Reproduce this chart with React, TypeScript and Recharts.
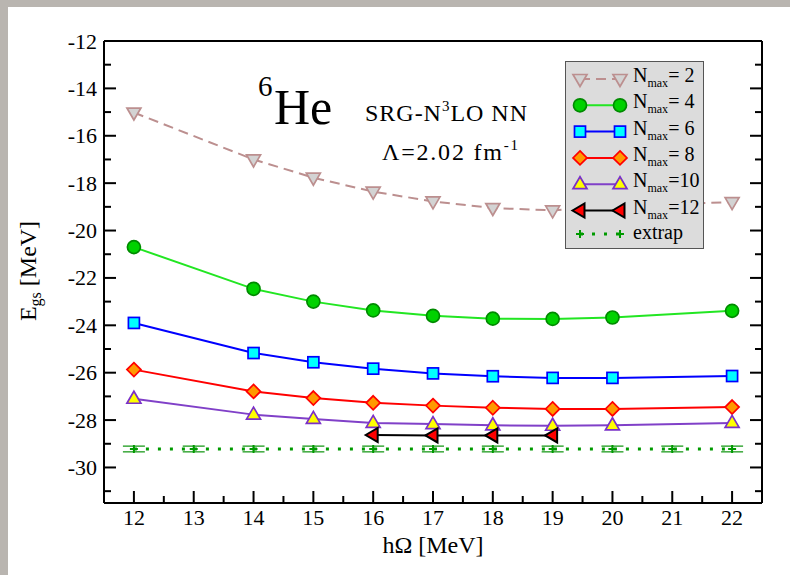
import React from "react";
import { ComposedChart, Line, XAxis, YAxis, ErrorBar, Legend } from "recharts";

const FONT = '"Liberation Serif", "Times New Roman", "Nimbus Roman", serif';

// hbar*Omega grid [MeV]
const hw = [12, 13, 14, 15, 16, 17, 18, 19, 20, 21, 22];

// ground-state energies [MeV] per Nmax
const nmax2 = [-15.02, null, -17.0, -17.77, -18.36, -18.77, -19.05, -19.15, -18.98, null, -18.8];
const nmax4 = [-20.7, null, -22.46, -23.0, -23.37, -23.6, -23.72, -23.73, -23.67, null, -23.39];
const nmax6 = [-23.9, null, -25.17, -25.56, -25.83, -26.03, -26.15, -26.22, -26.22, null, -26.14];
const nmax8 = [-25.87, null, -26.79, -27.07, -27.27, -27.39, -27.48, -27.53, -27.53, null, -27.45];
const nmax10 = [-27.1, null, -27.77, -27.95, -28.12, -28.17, -28.22, -28.24, -28.22, null, -28.12];
const nmax12 = [null, null, null, null, -28.63, -28.65, -28.65, -28.65, null, null, null];
const extrap = [-29.22, -29.22, -29.22, -29.22, -29.22, -29.22, -29.22, -29.22, -29.22, -29.22, -29.22];
const extrapErr = [0.12, 0.12, 0.12, 0.12, 0.12, 0.12, 0.12, 0.12, 0.12, 0.12, 0.12];

const xMajor = [12, 13, 14, 15, 16, 17, 18, 19, 20, 21, 22];
const xMinor = [12.5, 13.5, 14.5, 15.5, 16.5, 17.5, 18.5, 19.5, 20.5, 21.5];
const yMajor = [-30, -28, -26, -24, -22, -20, -18, -16, -14, -12];
const yMinor = [-31, -29, -27, -25, -23, -21, -19, -17, -15, -13];

const X_DOMAIN = [11.5, 22.5];
const Y_DOMAIN = [-31.5, -12];

const SERIES = [
  { key: "n2", values: nmax2, label: "= 2", line: "#bc8f8f", dash: "10 6", marker: "triDown", fill: "#d3d3d3", stroke: "#bc8f8f" },
  { key: "n4", values: nmax4, label: "= 4", line: "#22e622", dash: undefined, marker: "circle", fill: "#00d200", stroke: "#008a00" },
  { key: "n6", values: nmax6, label: "= 6", line: "#0000ff", dash: undefined, marker: "square", fill: "#00ffff", stroke: "#0000ff" },
  { key: "n8", values: nmax8, label: "= 8", line: "#ff0000", dash: undefined, marker: "diamond", fill: "#ff9900", stroke: "#ff0000" },
  { key: "n10", values: nmax10, label: "=10", line: "#8040c8", dash: undefined, marker: "triUp", fill: "#ffff00", stroke: "#7a30c8" },
  { key: "n12", values: nmax12, label: "=12", line: "#000000", dash: undefined, marker: "triLeft", fill: "#ff0000", stroke: "#000000" },
];

const EXTRAP_COLOR = "#009a00";

const data = hw.map((x, i) => {
  const row: any = { x, ex: extrap[i], err: extrapErr[i] };
  SERIES.forEach((s) => (row[s.key] = s.values[i]));
  return row;
});

function drawMarker(kind: string, cx: number, cy: number, fill: string, stroke: string, key?: string) {
  const sw = 1.7;
  switch (kind) {
    case "circle":
      return <circle key={key} cx={cx} cy={cy} r={6.5} fill={fill} stroke={stroke} strokeWidth={sw} />;
    case "square":
      return <rect key={key} x={cx - 5.5} y={cy - 5.5} width={11} height={11} fill={fill} stroke={stroke} strokeWidth={sw} />;
    case "diamond":
      return <polygon key={key} points={`${cx},${cy - 7} ${cx + 7},${cy} ${cx},${cy + 7} ${cx - 7},${cy}`} fill={fill} stroke={stroke} strokeWidth={sw} />;
    case "triUp":
      return <polygon key={key} points={`${cx},${cy - 7.5} ${cx + 7},${cy + 4.5} ${cx - 7},${cy + 4.5}`} fill={fill} stroke={stroke} strokeWidth={sw} />;
    case "triDown":
      return <polygon key={key} points={`${cx - 7},${cy - 4.5} ${cx + 7},${cy - 4.5} ${cx},${cy + 7.5}`} fill={fill} stroke={stroke} strokeWidth={sw} />;
    case "triLeft":
      return <polygon key={key} points={`${cx - 7.5},${cy} ${cx + 4.5},${cy - 7} ${cx + 4.5},${cy + 7}`} fill={fill} stroke={stroke} strokeWidth={2} />;
    case "plus":
      return (
        <g key={key} stroke={stroke} strokeWidth={2}>
          <line x1={cx - 4} x2={cx + 4} y1={cy} y2={cy} />
          <line x1={cx} x2={cx} y1={cy - 4} y2={cy + 4} />
        </g>
      );
    default:
      return <g key={key} />;
  }
}

const makeDot = (kind: string, fill: string, stroke: string, id: string) => (p: any) => {
  const key = `${id}-${p.index}`;
  if (p.cx == null || p.cy == null || p.value == null) return <g key={key} />;
  return drawMarker(kind, p.cx, p.cy, fill, stroke, key);
};

const labelStyle = { fontFamily: FONT, fontSize: 22 };

// tick renderers: ticks point into the plot, minor ones shorter
const BottomTick = (p: any) => {
  const v = p.payload.value;
  const major = xMajor.includes(v);
  return (
    <g>
      <line x1={p.x} x2={p.x} y1={p.y} y2={p.y - (major ? 12 : 7)} stroke="#000" strokeWidth={2} />
      {major && (
        <text x={p.x} y={p.y + 22} textAnchor="middle" fill="#000" style={labelStyle}>
          {v}
        </text>
      )}
    </g>
  );
};

const TopTick = (p: any) => {
  const major = xMajor.includes(p.payload.value);
  return <line x1={p.x} x2={p.x} y1={p.y} y2={p.y + (major ? 12 : 7)} stroke="#000" strokeWidth={2} />;
};

const LeftTick = (p: any) => {
  const v = p.payload.value;
  const major = yMajor.includes(v);
  return (
    <g>
      <line x1={p.x} x2={p.x + (major ? 12 : 7)} y1={p.y} y2={p.y} stroke="#000" strokeWidth={2} />
      {major && (
        <text x={p.x - 7} y={p.y + 7.5} textAnchor="end" fill="#000" style={labelStyle}>
          {v}
        </text>
      )}
    </g>
  );
};

const RightTick = (p: any) => {
  const major = yMajor.includes(p.payload.value);
  return <line x1={p.x} x2={p.x - (major ? 12 : 7)} y1={p.y} y2={p.y} stroke="#000" strokeWidth={2} />;
};

const xTicks = [...xMajor, ...xMinor].sort((a, b) => a - b);
const yTicks = [...yMajor, ...yMinor].sort((a, b) => a - b);
const axisLine = { stroke: "#000", strokeWidth: 2 };

function LegendBox() {
  const rowY = (i: number) => 18 + i * 26.3;
  return (
    <svg width={139} height={188} style={{ display: "block", fontFamily: FONT }}>
      <rect x={0.5} y={0.5} width={138} height={187} fill="#dcdcdc" stroke="#555" strokeWidth={1} />
      {SERIES.map((s, i) => {
        const y = rowY(i);
        return (
          <g key={s.key}>
            <line x1={15} x2={55} y1={y} y2={y} stroke={s.line} strokeWidth={2} strokeDasharray={s.dash} />
            {drawMarker(s.marker, 15, y, s.fill, s.stroke, "a")}
            {drawMarker(s.marker, 55, y, s.fill, s.stroke, "b")}
            <text x={68} y={y + 3} fill="#000" style={{ fontFamily: FONT, fontSize: 20 }}>
              N
              <tspan style={{ fontSize: 12 }} dy={5}>max</tspan>
              <tspan style={{ fontSize: 20 }} dy={-5}>{s.label}</tspan>
            </text>
          </g>
        );
      })}
      <g>
        <line x1={15} x2={55} y1={173} y2={173} stroke={EXTRAP_COLOR} strokeWidth={3} strokeDasharray="3 9" />
        {drawMarker("plus", 15, 173, "none", EXTRAP_COLOR, "a")}
        {drawMarker("plus", 55, 173, "none", EXTRAP_COLOR, "b")}
        <text x={68} y={178} fill="#000" style={{ fontFamily: FONT, fontSize: 20 }}>extrap</text>
      </g>
    </svg>
  );
}

export default function App() {
  return (
    <div style={{ position: "absolute", left: 0, top: 0, width: 790, height: 575, background: "#b9b5b0", overflow: "hidden" }}>
      <div style={{ position: "absolute", left: 8, top: 7, width: 782, height: 568, background: "#fff" }} />
      <div style={{ position: "absolute", left: 0, top: 0 }}>
        <ComposedChart width={790} height={575} data={data} margin={{ top: 41, right: 28, bottom: 32, left: 44 }}>
          <XAxis
            xAxisId="b"
            dataKey="x"
            type="number"
            domain={X_DOMAIN}
            allowDataOverflow
            ticks={xTicks}
            interval={0}
            height={40}
            tickSize={0}
            tickMargin={0}
            tickLine={false}
            axisLine={axisLine}
            tick={BottomTick}
          />
          <XAxis
            xAxisId="t"
            orientation="top"
            mirror
            type="number"
            domain={X_DOMAIN}
            allowDataOverflow
            ticks={xTicks}
            interval={0}
            height={1}
            tickSize={0}
            tickMargin={0}
            tickLine={false}
            axisLine={axisLine}
            tick={TopTick}
          />
          <YAxis
            yAxisId="l"
            type="number"
            domain={Y_DOMAIN}
            allowDataOverflow
            ticks={yTicks}
            interval={0}
            width={60}
            tickSize={0}
            tickMargin={0}
            tickLine={false}
            axisLine={axisLine}
            tick={LeftTick}
          />
          <YAxis
            yAxisId="r"
            orientation="right"
            mirror
            type="number"
            domain={Y_DOMAIN}
            allowDataOverflow
            ticks={yTicks}
            interval={0}
            width={1}
            tickSize={0}
            tickMargin={0}
            tickLine={false}
            axisLine={axisLine}
            tick={RightTick}
          />

          <Line
            xAxisId="b"
            yAxisId="l"
            dataKey="ex"
            stroke={EXTRAP_COLOR}
            strokeWidth={3}
            strokeDasharray="3 9"
            dot={makeDot("plus", "none", EXTRAP_COLOR, "ex")}
            activeDot={false}
            isAnimationActive={false}
          >
            <ErrorBar dataKey="err" width={11} strokeWidth={1.5} stroke="#3aa83a" direction="y" isAnimationActive={false} />
          </Line>

          {SERIES.map((s) => (
            <Line
              key={s.key}
              xAxisId="b"
              yAxisId="l"
              dataKey={s.key}
              stroke={s.line}
              strokeWidth={2}
              strokeDasharray={s.dash}
              connectNulls
              dot={makeDot(s.marker, s.fill, s.stroke, s.key)}
              activeDot={false}
              isAnimationActive={false}
            />
          ))}

          <Legend
            layout="horizontal"
            verticalAlign="middle"
            align="center"
            wrapperStyle={{ left: 565, top: 61, width: 139, height: 188 }}
            content={() => <LegendBox />}
          />
        </ComposedChart>
      </div>

      <svg
        width={790}
        height={575}
        style={{ position: "absolute", left: 0, top: 0, pointerEvents: "none", fontFamily: FONT }}
        fill="#000"
      >
        <text x={258} y={96} style={{ fontSize: 29 }}>6</text>
        <text x={274} y={124} style={{ fontSize: 50 }}>He</text>
        <text x={365} y={121} style={{ fontSize: 24 }} textLength={162} lengthAdjust="spacing">
          SRG-N
          <tspan style={{ fontSize: 15 }} dy={-10}>3</tspan>
          <tspan style={{ fontSize: 24 }} dy={10}>LO NN</tspan>
        </text>
        <text x={382} y={160} style={{ fontSize: 24 }} textLength={136} lengthAdjust="spacing">
          Λ=2.02 fm
          <tspan style={{ fontSize: 15 }} dy={-10}>-1</tspan>
        </text>

        <text x={433} y={553} style={{ fontSize: 24 }} textAnchor="middle">hΩ [MeV]</text>

        <text transform="translate(36,271) rotate(-90)" style={{ fontSize: 24 }} textAnchor="middle">
          E
          <tspan style={{ fontSize: 16 }} dy={5}>gs</tspan>
          <tspan style={{ fontSize: 24 }} dy={-5}> [MeV]</tspan>
        </text>
      </svg>
    </div>
  );
}
